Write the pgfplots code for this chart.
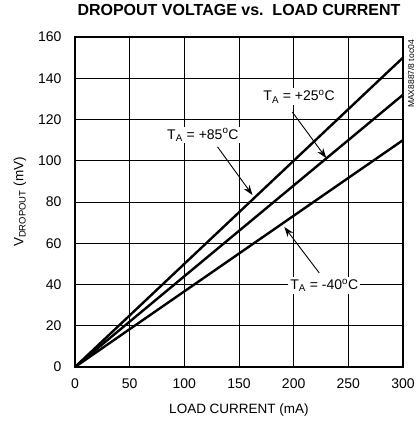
\documentclass[border=0pt]{standalone}
\usepackage{fontspec}
\setmainfont{Liberation Sans}
\usepackage{pgfplots}
\pgfplotsset{compat=1.18}
\usetikzlibrary{arrows.meta}

\begin{document}
\begin{tikzpicture}
\begin{axis}[
  scale only axis,
  width=328pt, height=330pt,
  xmin=0, xmax=300, ymin=0, ymax=160,
  xtick={0,50,...,300}, ytick={0,20,...,160},
  grid=major,
  major grid style={black, line width=0.9pt},
  axis line style={line width=2.4pt},
  major tick length=0pt,
  tick label style={font=\fontsize{14}{16}\selectfont},
  /pgf/number format/assume math mode=true,
  xticklabel style={yshift=-8pt},
  yticklabel style={xshift=-10pt},
  xlabel={LOAD CURRENT (mA)},
  ylabel={V\textsubscript{DROPOUT} (mV)},
  label style={font=\fontsize{13.5}{15}\selectfont},
  xlabel style={yshift=-8pt},
  ylabel style={yshift=5pt},
  title={\textbf{DROPOUT VOLTAGE vs.\ \ LOAD CURRENT}},
  title style={font=\fontsize{16}{18}\selectfont, yshift=12pt},
  clip=false,
]
% +85 C
\addplot[black, line width=2.4pt] coordinates {(0,0) (300,150)};
% +25 C
\addplot[black, line width=2.4pt] coordinates {(0,0) (300,132)};
% -40 C
\addplot[black, line width=2.4pt] coordinates {(0,0) (300,110)};

\node[fill=white, inner sep=2pt, font=\fontsize{14}{16}\selectfont] at (axis cs:205,131) {T\textsubscript{A} = +25\textsuperscript{o}C};
\node[fill=white, inner sep=2pt, font=\fontsize{14}{16}\selectfont] at (axis cs:117,112.5) {T\textsubscript{A} = +85\textsuperscript{o}C};
\node[fill=white, inner sep=2pt, font=\fontsize{14}{16}\selectfont] at (axis cs:228,39.5) {T\textsubscript{A} = -40\textsuperscript{o}C};

\draw[-{Stealth[length=10pt,width=7pt]}, line width=0.9pt] (axis cs:198.8,123.6) -- (axis cs:229.8,101.3);
\draw[-{Stealth[length=10pt,width=7pt]}, line width=0.9pt] (axis cs:130.4,106.7) -- (axis cs:162.3,83.4);
\draw[-{Stealth[length=10pt,width=7pt]}, line width=0.9pt] (axis cs:223.4,45.6) -- (axis cs:191.5,67.9);

\node[rotate=90, anchor=east, font=\fontsize{8.5}{9}\selectfont, inner sep=0pt] at ([xshift=8pt,yshift=-3pt]rel axis cs:1,1) {MAX8887/8 toc04};
\end{axis}
\path ([xshift=-75pt,yshift=-61pt]current axis.south west) rectangle ([xshift=14pt,yshift=37pt]current axis.north east);
\end{tikzpicture}
\end{document}
